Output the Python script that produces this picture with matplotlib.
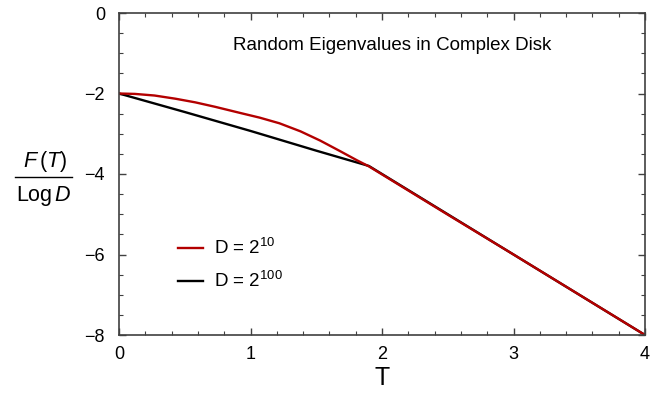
import numpy as np
import matplotlib
matplotlib.use("Agg")
import matplotlib.pyplot as plt
from matplotlib.lines import Line2D
from matplotlib.ticker import MultipleLocator

plt.rcParams['font.family'] = ['Liberation Sans', 'DejaVu Sans']
plt.rcParams['mathtext.fontset'] = 'custom'
plt.rcParams['mathtext.rm'] = 'Liberation Sans'
plt.rcParams['mathtext.it'] = 'Liberation Sans:italic'

# Free energy per log D versus temperature
T_small = [0.0, 0.12, 0.27, 0.43, 0.58, 0.73, 0.93, 1.07, 1.22, 1.38, 1.53,
           1.68, 1.81, 1.9, 2.0, 2.5, 3.0, 3.5, 4.0]
F_small = [-2.0, -2.01, -2.05, -2.13, -2.22, -2.33, -2.49, -2.60, -2.74, -2.94, -3.17,
           -3.43, -3.66, -3.81, -4.01, -5.01, -6.0, -7.0, -8.0]

T_large = [0.0, 0.5, 1.0, 1.5, 1.9, 4.0]
F_large = [-2.0, -2.46, -2.93, -3.42, -3.8, -8.0]

labels = [r'D = 2$^{10}$', r'D = 2$^{100}$']
colors = ['#b30000', '#000000']

W, H = 670, 396
fig = plt.figure(figsize=(W/100, H/100), dpi=100)
ax = fig.add_axes([119/W, 1-335/H, (645-119)/W, (335-13)/H])

ax.plot(T_large, F_large, color=colors[1], lw=1.7, solid_joinstyle='round')
ax.plot(T_small, F_small, color=colors[0], lw=1.7, solid_joinstyle='round')

ax.set_xlim(0, 4)
ax.set_ylim(-8, 0)
ax.xaxis.set_major_locator(MultipleLocator(1))
ax.xaxis.set_minor_locator(MultipleLocator(0.2))
ax.yaxis.set_major_locator(MultipleLocator(2))
ax.yaxis.set_minor_locator(MultipleLocator(0.5))

frame_col = '#404040'
for s in ax.spines.values():
    s.set_color(frame_col)
    s.set_linewidth(1.2)
ax.tick_params(which='both', direction='in', top=True, right=True, color=frame_col)
ax.tick_params(which='major', length=5, width=1.0, labelsize=13, pad=8)
ax.tick_params(which='minor', length=3, width=0.8)
ax.tick_params(axis='y', which='major', pad=10)

ax.set_xlabel('T', fontsize=18, labelpad=2)

# legend drawn as short line samples with labels
leg_y = [-5.84, -6.66]
for yv, c, lab in zip(leg_y, colors, labels):
    ax.plot([0.45, 0.64], [yv, yv], color=c, lw=1.7)
    ax.text(0.72, yv, lab, fontsize=13.5, va='center', ha='left')

ax.text(2.076, -0.8, 'Random Eigenvalues in Complex Disk', fontsize=13.5,
        ha='center', va='center')

# y label as a stacked fraction
fig.text(45/W, 1-161/H, r'$F\,(T)$', fontsize=15.5, ha='center', va='center')
fig.text(44/W, 1-196/H, r'Log$\,D$', fontsize=15.5, ha='center', va='center')
fig.add_artist(Line2D([15/W, 72/W], [1-177/H, 1-177/H], color='black', lw=1.0,
                      transform=fig.transFigure))

fig.savefig('out.png', dpi=100)
